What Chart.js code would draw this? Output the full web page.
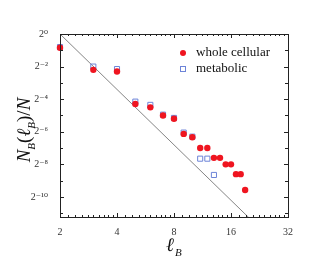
<!DOCTYPE html>
<html>
<head>
<meta charset="utf-8">
<script src="https://cdn.jsdelivr.net/npm/chart.js@4.4.0/dist/chart.umd.min.js"></script>
<style>
  html, body { margin: 0; padding: 0; background: #fff; }
  #wrap { width: 322px; height: 275px; }
</style>
</head>
<body>
<div id="wrap"><canvas id="chart" width="322" height="275"></canvas></div>
<script>
// box size l_B and log2 of N_B(l_B)/N
const wholeSizes = [2, 3, 4, 5, 6, 7, 8, 9, 10, 11, 12, 13, 14, 15, 16, 17, 18, 19];
const wholeExp = [-0.84, -2.2, -2.3, -4.3, -4.5, -5.0, -5.2, -6.13, -6.34, -7.0, -7.0, -7.6, -7.6, -8.0, -8.0, -8.6, -8.6, -9.57];
const metabolicSizes = [2, 3, 4, 5, 6, 7, 8, 9, 10, 11, 12, 13];
const metabolicExp = [-0.8, -2.0, -2.15, -4.15, -4.35, -4.95, -5.15, -6.05, -6.3, -7.65, -7.65, -8.65];
// guide line end points
const fitSizes = [2, 20];
const fitExp = [0, -11.3];

const xTickLabels = [2, 4, 8, 16, 32];
const yTickExps = [0, -1, -2, -3, -4, -5, -6, -7, -8, -9, -10, -11];
const yLabelExps = [0, -2, -4, -6, -8, -10];

const SUP = { '0': '\u2070', '1': '\u00b9', '2': '\u00b2', '3': '\u00b3', '4': '\u2074', '5': '\u2075',
  '6': '\u2076', '7': '\u2077', '8': '\u2078', '9': '\u2079', '-': '\u207b' };
const sup = s => String(s).split('').map(c => SUP[c]).join('');

const toPoints = (xs, es) => xs.map((x, i) => ({ x: x, y: Math.pow(2, es[i]) }));

const RED = '#ef1520';
const BLUE = '#6d84d8';
const SERIF = '"Liberation Serif", "DejaVu Serif", serif';

// minor ticks: ten steps per octave
const xMinor = [];
[2, 4, 8, 16].forEach(b => { for (let k = 1; k < 10; k++) xMinor.push(b * (1 + k / 10)); });

const frame = {
  id: 'frame',
  afterDraw(chart) {
    const ctx = chart.ctx;
    const a = chart.chartArea;
    const xs = chart.scales.x, ys = chart.scales.y;
    ctx.save();
    ctx.strokeStyle = '#222';
    ctx.lineWidth = 1;
    ctx.strokeRect(a.left + 0.5, a.top + 0.5, a.right - a.left, a.bottom - a.top);
    ctx.beginPath();
    xs.ticks.forEach(t => {
      const px = Math.round(xs.getPixelForValue(t.value)) + 0.5;
      const len = xTickLabels.includes(t.value) ? 4 : 2;
      ctx.moveTo(px, a.bottom); ctx.lineTo(px, a.bottom - len);
      ctx.moveTo(px, a.top); ctx.lineTo(px, a.top + len);
    });
    ys.ticks.forEach(t => {
      const py = Math.round(ys.getPixelForValue(t.value)) + 0.5;
      const e = Math.round(Math.log2(t.value));
      const len = yLabelExps.includes(e) ? 4 : 3;
      ctx.moveTo(a.left, py); ctx.lineTo(a.left + len, py);
      ctx.moveTo(a.right, py); ctx.lineTo(a.right - len, py);
    });
    ctx.stroke();

    // legend
    ctx.fillStyle = RED;
    ctx.beginPath(); ctx.arc(183, 53, 3, 0, Math.PI * 2); ctx.fill();
    ctx.strokeStyle = BLUE;
    ctx.strokeRect(180.5, 66.5, 5, 5);
    ctx.fillStyle = '#111';
    ctx.font = '13px ' + SERIF;
    ctx.textBaseline = 'middle';
    ctx.fillText('whole cellular', 196, 53);
    ctx.fillText('metabolic', 196, 69);

    // axis titles with subscripts
    const big = 'italic 19px ' + SERIF, small = 'italic 11px ' + SERIF, rom = '19px ' + SERIF;
    const parts = [
      [big, 'N', 0], [small, 'B', 5], [rom, '(', 0], [big, '\u2113', 0], [small, 'B', 5], [rom, ')/', 0], [big, 'N', 0]
    ];
    let w = 0;
    parts.forEach(p => { ctx.font = p[0]; w += ctx.measureText(p[1]).width; });
    ctx.save();
    ctx.translate(30, 130);
    ctx.rotate(-Math.PI / 2);
    ctx.textBaseline = 'alphabetic';
    let cx = -w / 2;
    parts.forEach(p => { ctx.font = p[0]; ctx.fillText(p[1], cx, p[2]); cx += ctx.measureText(p[1]).width; });
    ctx.restore();

    ctx.textBaseline = 'alphabetic';
    ctx.font = big;
    ctx.fillText('\u2113', 166, 251);
    const lw = ctx.measureText('\u2113').width;
    ctx.font = small;
    ctx.fillText('B', 166 + lw + 1, 256);
    ctx.restore();
  }
};

new Chart(document.getElementById('chart'), {
  type: 'scatter',
  data: {
    datasets: [
      {
        label: 'whole cellular',
        data: toPoints(wholeSizes, wholeExp),
        pointStyle: 'circle', pointRadius: 3.2,
        backgroundColor: RED, borderColor: RED, borderWidth: 0,
        order: 0, clip: false
      },
      {
        label: 'metabolic',
        data: toPoints(metabolicSizes, metabolicExp),
        pointStyle: 'rect', pointRadius: 3.6,
        backgroundColor: 'rgba(0,0,0,0)', borderColor: BLUE, borderWidth: 1,
        order: 1, clip: false
      },
      {
        label: 'fit',
        data: toPoints(fitSizes, fitExp),
        showLine: true, pointRadius: 0,
        borderColor: '#666', borderWidth: 0.8,
        order: 2
      }
    ]
  },
  options: {
    responsive: false,
    animation: false,
    layout: { padding: { left: 0, top: 34, right: 34, bottom: 0 } },
    plugins: { legend: { display: false }, tooltip: { enabled: false } },
    scales: {
      x: {
        type: 'logarithmic', min: 2, max: 32,
        afterBuildTicks: s => { s.ticks = xTickLabels.concat(xMinor).sort((a, b) => a - b).map(v => ({ value: v })); },
        afterFit: s => { s.height = 58; },
        grid: { display: false },
        border: { display: false },
        ticks: {
          autoSkip: false, maxRotation: 0, padding: 1,
          color: '#333', font: { family: SERIF, size: 10 },
          callback: v => xTickLabels.includes(v) ? String(v) : ''
        }
      },
      y: {
        type: 'logarithmic', min: Math.pow(2, -11.23), max: 1,
        afterBuildTicks: s => { s.ticks = yTickExps.map(e => ({ value: Math.pow(2, e) })); },
        afterFit: s => { s.width = 60; },
        grid: { display: false },
        border: { display: false },
        ticks: {
          autoSkip: false, padding: 4,
          color: '#333', font: { family: SERIF, size: 10 },
          callback: v => {
            const e = Math.round(Math.log2(v));
            return yLabelExps.includes(e) ? '2' + sup(e) : '';
          }
        }
      }
    }
  },
  plugins: [frame]
});
</script>
</body>
</html>
